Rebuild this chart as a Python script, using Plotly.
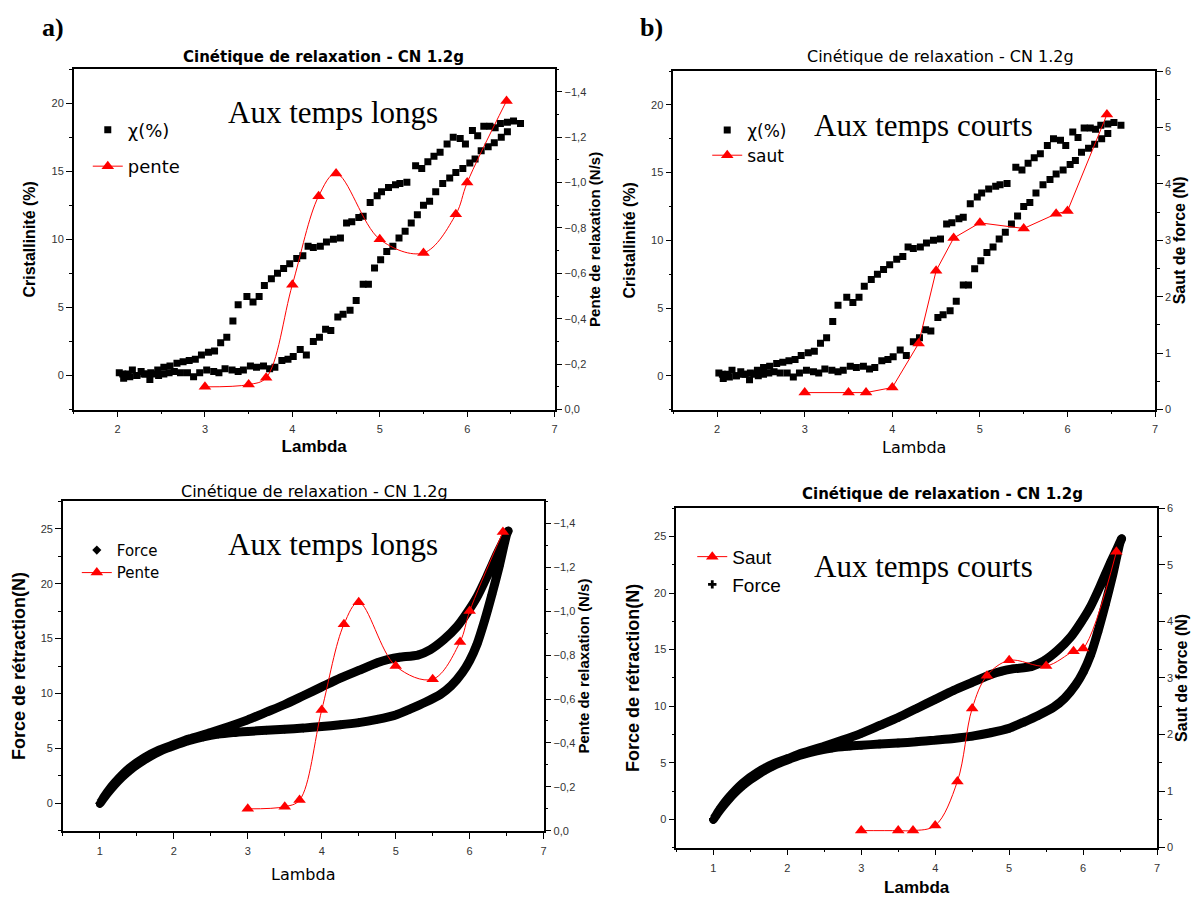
import plotly.graph_objects as go

# ---------------- data ----------------
# Crystallinity chi(%) vs lambda : lower branch and upper branch (hysteresis loop)
lam_chi_low = [2.02, 2.07, 2.12, 2.17, 2.22, 2.27, 2.32, 2.37, 2.42, 2.47, 2.53, 2.59, 2.65, 2.72, 2.80,
               2.87, 2.94, 3.02, 3.10, 3.16, 3.23, 3.31, 3.38, 3.44, 3.52, 3.59, 3.67, 3.74, 3.80, 3.88,
               3.95, 4.01, 4.09, 4.16, 4.24, 4.31, 4.38, 4.44, 4.52, 4.58, 4.66, 4.73, 4.81, 4.87, 4.94,
               5.01, 5.08, 5.15, 5.22, 5.29, 5.36, 5.43, 5.50, 5.57, 5.64, 5.72, 5.80, 5.87, 5.95, 6.03,
               6.09, 6.16, 6.24, 6.31, 6.39, 6.46]
chi_low = [0.2, -0.2, 0.1, 0.4, 0.0, 0.3, 0.1, -0.3, 0.1, 0.0, 0.1, 0.2, 0.3, 0.2, 0.2,
           -0.1, 0.2, 0.4, 0.3, 0.2, 0.5, 0.4, 0.3, 0.4, 0.7, 0.6, 0.7, 0.5, 0.6, 1.1,
           1.2, 1.4, 1.9, 1.5, 2.5, 2.8, 3.4, 3.3, 4.3, 4.5, 4.8, 5.5, 6.7, 6.7, 7.9,
           8.5, 9.1, 9.5, 10.1, 10.6, 11.2, 11.8, 12.5, 12.8, 13.5, 14.1, 14.5, 14.9, 15.2, 15.6,
           15.9, 16.5, 16.8, 17.1, 17.5, 17.9]
lam_chi_high = [2.06, 2.14, 2.22, 2.30, 2.38, 2.46, 2.53, 2.60, 2.68, 2.75, 2.82, 2.89, 2.96, 3.04, 3.11,
                3.18, 3.25, 3.32, 3.38, 3.48, 3.55, 3.62, 3.68, 3.76, 3.83, 3.90, 3.97, 4.05, 4.12, 4.18,
                4.24, 4.32, 4.39, 4.47, 4.55, 4.62, 4.68, 4.76, 4.81, 4.89, 4.97, 5.02, 5.10, 5.18, 5.23,
                5.31, 5.41, 5.48, 5.55, 5.62, 5.69, 5.77, 5.84, 5.92, 5.98, 6.06, 6.12, 6.19, 6.26, 6.32,
                6.38, 6.46, 6.53, 6.61]
chi_high = [0.1, -0.1, 0.0, 0.1, 0.2, 0.4, 0.6, 0.7, 0.9, 1.0, 1.1, 1.2, 1.5, 1.7, 1.8,
            2.4, 2.8, 4.0, 5.2, 5.8, 5.4, 5.8, 6.6, 7.1, 7.5, 7.85, 8.2, 8.6, 8.8, 9.5,
            9.4, 9.5, 9.8, 10.0, 10.1, 11.2, 11.3, 11.6, 11.7, 12.7, 13.2, 13.5, 13.8, 14.0, 14.1,
            14.2, 15.4, 15.2, 15.7, 16.1, 16.4, 17.0, 17.5, 17.4, 17.0, 18.0, 17.6, 18.3, 18.3, 18.2,
            18.5, 18.6, 18.7, 18.5]

# Relaxation slope (N/s)
lam_pente = [3.0, 3.5, 3.7, 4.0, 4.3, 4.5, 5.0, 5.5, 5.87, 6.0, 6.45]
pente = [-0.10, -0.11, -0.14, -0.55, -0.94, -1.04, -0.75, -0.69, -0.86, -1.00, -1.36]

# Force jump (N)
lam_saut = [3.0, 3.5, 3.7, 4.0, 4.3, 4.5, 4.7, 5.0, 5.5, 5.87, 6.0, 6.45]
saut = [0.30, 0.30, 0.30, 0.39, 1.17, 2.46, 3.04, 3.31, 3.21, 3.47, 3.52, 5.23]

# Retraction force (N) : lower and upper branches of the loop
lam_force_low = [1.00, 1.10, 1.20, 1.30, 1.40, 1.50, 1.60, 1.70, 1.80, 1.90, 2.00, 2.20, 2.40, 2.60, 2.80,
                 3.00, 3.25, 3.50, 3.75, 4.00, 4.25, 4.50, 4.75, 5.00, 5.20, 5.40, 5.60, 5.75, 5.90, 6.00,
                 6.10, 6.20, 6.30, 6.40, 6.50]
force_low = [0.0, 0.9, 1.7, 2.4, 3.0, 3.5, 3.95, 4.35, 4.7, 5.0, 5.25, 5.7, 6.05, 6.3, 6.45,
             6.55, 6.65, 6.75, 6.85, 7.0, 7.15, 7.35, 7.65, 8.05, 8.6, 9.2, 9.9, 10.7, 11.9, 13.0,
             14.5, 16.6, 19.0, 21.6, 24.5]
lam_force_high = [1.00, 1.10, 1.20, 1.40, 1.60, 1.80, 2.00, 2.20, 2.50, 2.75, 3.00, 3.25, 3.50, 3.75, 4.00,
                  4.25, 4.50, 4.75, 4.90, 5.05, 5.30, 5.47, 5.65, 5.83, 5.97, 6.10, 6.23, 6.37, 6.45, 6.52]
force_high = [0.0, 1.0, 1.85, 3.2, 4.15, 4.85, 5.35, 5.85, 6.45, 7.0, 7.6, 8.3, 9.0, 9.8, 10.6,
              11.4, 12.1, 12.8, 13.1, 13.3, 13.5, 14.0, 14.9, 16.1, 17.4, 18.8, 20.6, 22.7, 23.8, 24.8]

lam_chi = lam_chi_low + lam_chi_high
chi = chi_low + chi_high
lam_force = lam_force_low + lam_force_high[::-1]
force = force_low + force_high[::-1]

title_txt = "Cinétique de relaxation - CN 1.2g"
RED = "#ff0000"
SANS = "Liberation Sans"
WIDE = "DejaVu Sans"
SERIF = "Liberation Serif"
W, H = 1200, 897

fig = go.Figure()


def chi_trace(xa, ya, leg, group):
    fig.add_trace(go.Scatter(x=lam_chi, y=chi, mode="markers", name="χ(%)",
                             marker=dict(symbol="square", size=7, color="black"),
                             xaxis=xa, yaxis=ya, legend=leg, legendgroup=group))


def tri_trace(xv, yv, name, xa, ya, leg, group, shape):
    fig.add_trace(go.Scatter(x=xv, y=yv, mode="lines+markers", name=name,
                             line=dict(color=RED, width=1, shape=shape, smoothing=1.0),
                             marker=dict(symbol="triangle-up", size=11, color=RED),
                             xaxis=xa, yaxis=ya, legend=leg, legendgroup=group))


def force_trace(xa, ya, leg, group, sym):
    fig.add_trace(go.Scatter(x=lam_force, y=force, mode="lines", showlegend=False,
                             line=dict(color="black", width=9, shape="spline", smoothing=0.6),
                             xaxis=xa, yaxis=ya, hoverinfo="skip"))
    fig.add_trace(go.Scatter(x=lam_force, y=force, mode="markers", name="Force",
                             marker=dict(symbol=sym, size=7, color="black"),
                             xaxis=xa, yaxis=ya, legend=leg, legendgroup=group))


# panel a
chi_trace("x", "y", "legend", "a1")
tri_trace(lam_pente, pente, "pente", "x", "y2", "legend", "a2", "spline")
# panel b
chi_trace("x2", "y3", "legend2", "b1")
tri_trace(lam_saut, saut, "saut", "x2", "y4", "legend2", "b2", "linear")
# panel c
force_trace("x3", "y5", "legend3", "c1", "diamond")
tri_trace(lam_pente, pente, "Pente", "x3", "y6", "legend3", "c2", "spline")
# panel d
tri_trace(lam_saut, saut, "Saut", "x4", "y8", "legend4", "d1", "spline")
force_trace("x4", "y7", "legend4", "d2", "cross")

tickfont = dict(family=SANS, size=11, color="#333")
base = dict(showgrid=False, zeroline=False, showline=True, linecolor="black", linewidth=1.5,
            ticks="outside", ticklen=6, tickwidth=1, tickcolor="black", tickfont=tickfont)


def xax(domain, rng, anchor, title, bold, standoff):
    d = dict(base)
    d.update(domain=domain, range=rng, anchor=anchor, dtick=1, tick0=0, mirror=True,
             ticklabelstandoff=3,
             minor=dict(ticks="outside", ticklen=3, dtick=0.5, tickcolor="black"),
             title=dict(text=title, standoff=standoff,
                        font=dict(family=SANS if bold else WIDE, size=17 if bold else 16,
                                  color="black", weight="bold" if bold else "normal")))
    return d


def topax(over, rng, anchor):
    return dict(overlaying=over, side="top", anchor=anchor, range=rng, dtick=1, tick0=0,
                showgrid=False, zeroline=False, showline=False, showticklabels=False,
                ticks="inside", ticklen=6, tickcolor="black",
                minor=dict(ticks="inside", ticklen=3, dtick=0.5, tickcolor="black"))


def yax(domain, rng, anchor, dtick, mdtick, title, size, standoff, side="left", over=None, fmt=None):
    d = dict(base)
    d.update(domain=domain, range=rng, anchor=anchor, dtick=dtick, tick0=0, side=side,
             minor=dict(ticks="outside", ticklen=3, dtick=mdtick, tickcolor="black"),
             title=dict(text=title, standoff=standoff,
                        font=dict(family=SANS, size=size, color="black", weight="bold")))
    if over:
        d["overlaying"] = over
    if fmt:
        d["tickformat"] = fmt
    return d


dxa = [74 / W, 556 / W]
dya = [1 - 409 / H, 1 - 64 / H]
dxb = [675 / W, 1158 / W]
dyb = [1 - 409 / H, 1 - 66 / H]
dxc = [63 / W, 545 / W]
dyc = [1 - 836 / H, 1 - 502 / H]
dxd = [678 / W, 1160 / W]
dyd = [1 - 853 / H, 1 - 509 / H]

fig.update_layout(
    xaxis=xax(dxa, [1.5, 7], "y", "Lambda", True, 6),
    yaxis=yax(dya, [-2.5, 22.5], "x", 5, 2.5, "Cristallinité (%)", 16, 12),
    yaxis2=yax(dya, [0, -1.5], "x", 0.2, 0.1, "Pente de relaxation (N/s)", 15, 4, "right", "y", ".1f"),
    xaxis2=xax(dxb, [1.5, 7], "y3", "Lambda", False, 7),
    yaxis3=yax(dyb, [-2.5, 22.5], "x2", 5, 2.5, "Cristallinité (%)", 16, 12),
    yaxis4=yax(dyb, [0, 6], "x2", 1, 0.5, "Saut de force (N)", 16, 2, "right", "y3"),
    xaxis3=xax(dxc, [0.5, 7], "y5", "Lambda", False, 13),
    yaxis5=yax(dyc, [-2.5, 27.5], "x3", 5, 2.5, "Force de rétraction(N)", 18, 10),
    yaxis6=yax(dyc, [0, -1.5], "x3", 0.2, 0.1, "Pente de relaxation (N/s)", 15, 4, "right", "y5", ".1f"),
    xaxis4=xax(dxd, [0.5, 7], "y7", "Lambda", True, 9),
    yaxis7=yax(dyd, [-2.5, 27.5], "x4", 5, 2.5, "Force de rétraction(N)", 18, 10),
    yaxis8=yax(dyd, [0, 6], "x4", 1, 0.5, "Saut de force (N)", 16, 2, "right", "y7"),
    xaxis5=topax("x", [1.5, 7], "y"),
    xaxis6=topax("x2", [1.5, 7], "y3"),
    xaxis7=topax("x3", [0.5, 7], "y5"),
    xaxis8=topax("x4", [0.5, 7], "y7"),
)

leg_base = dict(bgcolor="rgba(0,0,0,0)", borderwidth=0, xanchor="left", yanchor="top",
                traceorder="grouped", itemclick=False, itemdoubleclick=False)
fig.update_layout(
    legend=dict(leg_base, x=88 / W, y=1 - 107 / H, tracegroupgap=10,
                font=dict(family=WIDE, size=18, color="black")),
    legend2=dict(leg_base, x=709 / W, y=1 - 108 / H, tracegroupgap=0,
                 font=dict(family=WIDE, size=17, color="black")),
    legend3=dict(leg_base, x=77 / W, y=1 - 535 / H, tracegroupgap=0,
                 font=dict(family=WIDE, size=15, color="black")),
    legend4=dict(leg_base, x=694 / W, y=1 - 539 / H, tracegroupgap=0,
                 font=dict(family=SANS, size=19, color="black")),
)

ann = []


def add_text(txt, x, y, family, size, bold=False):
    ann.append(dict(text=txt, x=x / W, y=1 - y / H, xref="paper", yref="paper", showarrow=False,
                    xanchor="center", yanchor="middle",
                    font=dict(family=family, size=size, color="black", weight="bold" if bold else "normal")))


add_text("a)", 53, 22, SERIF, 26, True)
add_text("b)", 653, 22, SERIF, 26, True)
add_text(title_txt, 324, 52, WIDE, 15, True)
add_text(title_txt, 943, 51, WIDE, 16)
add_text(title_txt, 315, 492, WIDE, 16)
add_text(title_txt, 945, 495, WIDE, 15, True)
add_text("Aux temps longs", 334, 108, SERIF, 31)
add_text("Aux temps courts", 926, 121, SERIF, 31)
add_text("Aux temps longs", 334, 546, SERIF, 31)
add_text("Aux temps courts", 926, 568, SERIF, 31)

fig.update_layout(annotations=ann, width=W, height=H, margin=dict(l=0, r=0, t=0, b=0),
                  paper_bgcolor="white", plot_bgcolor="white", separators=", ",
                  font=dict(family=SANS, color="black"))

fig.write_html("out.html", config={"displayModeBar": False},
               post_script="document.body.style.margin='0';document.body.style.overflow='hidden';")
